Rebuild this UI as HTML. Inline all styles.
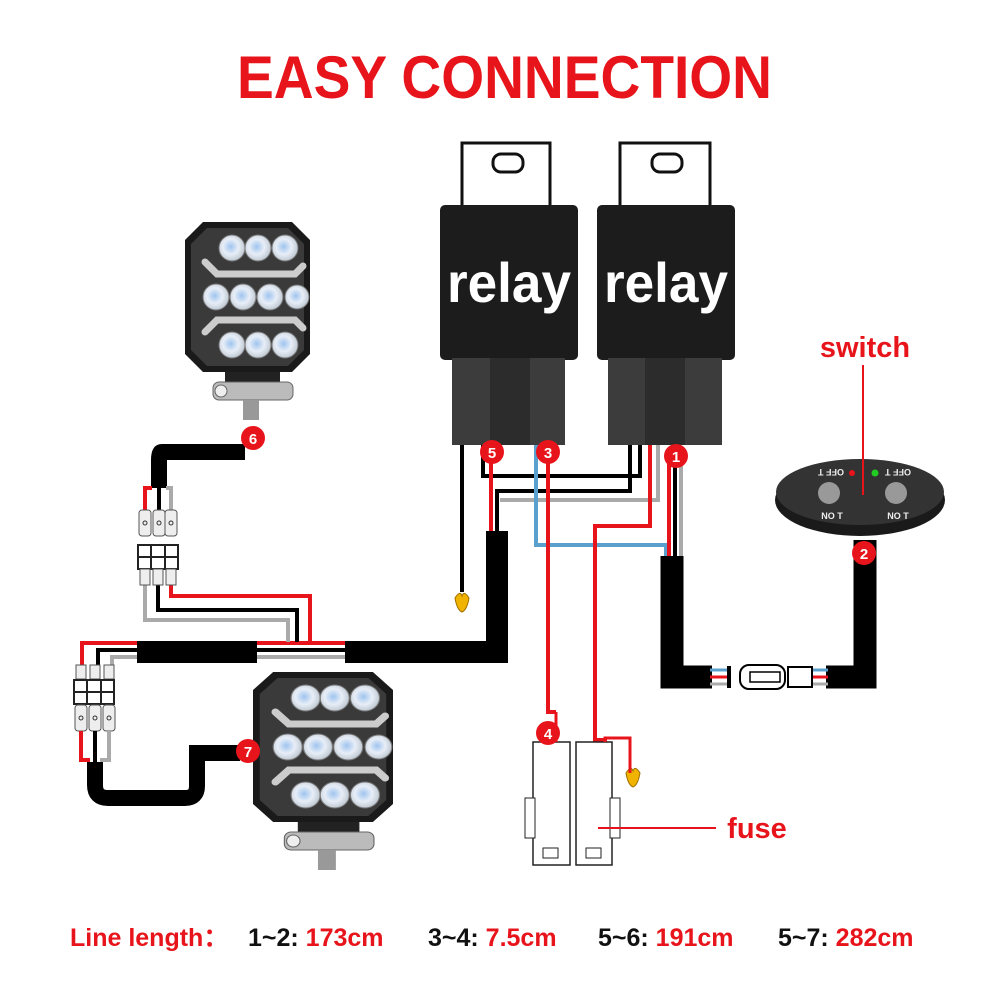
<!DOCTYPE html>
<html><head><meta charset="utf-8"><style>
body{margin:0;background:#fff;width:1000px;height:1000px;overflow:hidden}
svg{display:block}
text{font-family:"Liberation Sans",sans-serif;font-weight:bold}
</style></head><body>
<svg width="1000" height="1000" viewBox="0 0 1000 1000" xmlns="http://www.w3.org/2000/svg">
<defs>
<radialGradient id="led" cx="0.45" cy="0.45" r="0.6"><stop offset="0" stop-color="#9fc4ee"/><stop offset="0.5" stop-color="#e8eef7"/><stop offset="1" stop-color="#b8c2cc"/></radialGradient>
<g id="light">
<polygon points="18,0 107,0 125,18 125,132 107,150 18,150 0,132 0,18" fill="#1a1a1a"/>
<polygon points="22,6 103,6 119,22 119,128 103,144 22,144 6,128 6,22" fill="#3a3a3a"/>
<path d="M20,40 L32,52 L110,52 L118,44" stroke="#ccc" stroke-width="7" fill="none" stroke-linecap="round"/>
<path d="M20,110 L32,98 L110,98 L118,106" stroke="#ccc" stroke-width="7" fill="none" stroke-linecap="round"/>
<g fill="url(#led)" stroke="#777" stroke-width="1">
<circle cx="47" cy="26" r="13"/><circle cx="73" cy="26" r="13"/><circle cx="100" cy="26" r="13"/>
<circle cx="31" cy="75" r="13"/><circle cx="58" cy="75" r="13"/><circle cx="85" cy="75" r="13"/><circle cx="112" cy="75" r="12"/>
<circle cx="47" cy="123" r="13"/><circle cx="73" cy="123" r="13"/><circle cx="100" cy="123" r="13"/>
</g>
<rect x="40" y="150" width="55" height="20" fill="#222"/>
<rect x="28" y="160" width="80" height="18" rx="6" fill="#bbb" stroke="#666"/>
<circle cx="36" cy="169" r="6" fill="#eee" stroke="#666"/>
<rect x="58" y="178" width="16" height="20" fill="#999"/>
</g>
<g id="conn">
<rect x="0" y="0" width="12" height="26" rx="3" fill="#eee" stroke="#555"/>
<circle cx="6" cy="13" r="2" fill="none" stroke="#333"/>
</g>
</defs>

<text x="237" y="98" textLength="535" lengthAdjust="spacingAndGlyphs" font-size="60" fill="#e8141b">EASY CONNECTION</text>

<!-- relay 1 -->
<path d="M462,143 H550 V210 H462 Z" fill="#fff" stroke="#111" stroke-width="3"/>
<rect x="493" y="154" width="30" height="18" rx="8" fill="#fff" stroke="#111" stroke-width="3"/>
<rect x="440" y="205" width="138" height="155" rx="5" fill="#1c1c1c"/>
<text x="447" y="302" textLength="124" lengthAdjust="spacingAndGlyphs" font-size="56" fill="#fff">relay</text>
<rect x="452" y="358" width="113" height="87" fill="#3c3c3c"/>
<rect x="490" y="358" width="40" height="87" fill="#2c2c2c"/>
<!-- relay 2 -->
<path d="M620,143 H710 V210 H620 Z" fill="#fff" stroke="#111" stroke-width="3"/>
<rect x="652" y="154" width="30" height="18" rx="8" fill="#fff" stroke="#111" stroke-width="3"/>
<rect x="597" y="205" width="138" height="155" rx="5" fill="#1c1c1c"/>
<text x="604" y="302" textLength="124" lengthAdjust="spacingAndGlyphs" font-size="56" fill="#fff">relay</text>
<rect x="608" y="358" width="114" height="87" fill="#3c3c3c"/>
<rect x="645" y="358" width="40" height="87" fill="#2c2c2c"/>

<!-- thin relay wires -->
<g fill="none" stroke-width="4">
<path d="M462,445 V592" stroke="#000"/>
<path d="M483,445 V476 H640 V445" stroke="#000"/>
<path d="M497,531 V491 H630 V445" stroke="#000"/>
<path d="M500,500 H658 V445" stroke="#aaa"/>
<path d="M536,445 V545 H666 V556" stroke="#5aa0cc"/>
<path d="M491,452 V531" stroke="#e8141b"/>
<path d="M548,452 V712 L556,712" stroke="#e8141b"/>
<path d="M650,445 V526 H595 V740 H605 V780" stroke="#e8141b"/>
<path d="M669,452 V556" stroke="#e8141b"/>
<path d="M675,452 V556" stroke="#000"/>
<path d="M681,452 V556" stroke="#aaa"/>
</g>
<path d="M455,598 q5,-8 7,-2 q2,-6 7,2 q-2,12 -7,14 q-5,-2 -7,-14z" fill="#f0b400" stroke="#a07000"/>
<path d="M626,773 q5,-8 7,-2 q2,-6 7,2 q-2,12 -7,14 q-5,-2 -7,-14z" fill="#f0b400" stroke="#a07000"/>

<!-- main cable from relay 5 -->
<path d="M497,531 V652 H345" stroke="#000" stroke-width="22" fill="none"/>
<g stroke-width="4" fill="none">
<path d="M345,643 H82 V665" stroke="#e8141b"/>
<path d="M345,650 H98 V665" stroke="#000"/>
<path d="M345,657 H112 V665" stroke="#aaa"/>
</g>
<rect x="137" y="641" width="120" height="22" fill="#000"/>

<!-- light1 cable -->
<path d="M245,452 H162 Q159,452 159,460 V488" stroke="#000" stroke-width="16" fill="none"/>
<g stroke-width="4" fill="none">
<path d="M152,488 H145 V510" stroke="#e8141b"/>
<path d="M159,488 V510" stroke="#000"/>
<path d="M166,488 H171 V510" stroke="#aaa"/>
<path d="M145,585 V620 H288 V642" stroke="#aaa"/>
<path d="M158,585 V610 H297 V642" stroke="#000"/>
<path d="M171,585 V596 H310 V642" stroke="#e8141b"/>
</g>
<g>
<use href="#conn" x="139" y="510"/><use href="#conn" x="153" y="510"/><use href="#conn" x="165" y="510"/>
<rect x="138" y="545" width="40" height="24" fill="#fff" stroke="#222" stroke-width="2"/>
<path d="M138,557 H178 M151,545 V569 M165,545 V569" stroke="#222" stroke-width="2"/>
<rect x="140" y="569" width="10" height="16" fill="#eee" stroke="#555"/><rect x="153" y="569" width="10" height="16" fill="#eee" stroke="#555"/><rect x="166" y="569" width="10" height="16" fill="#eee" stroke="#555"/>
</g>
<!-- left connectors -->
<g>
<rect x="76" y="665" width="10" height="14" fill="#eee" stroke="#555"/><rect x="90" y="665" width="10" height="14" fill="#eee" stroke="#555"/><rect x="104" y="665" width="10" height="14" fill="#eee" stroke="#555"/>
<rect x="74" y="680" width="40" height="24" fill="#fff" stroke="#222" stroke-width="2"/>
<path d="M74,692 H114 M87,680 V704 M101,680 V704" stroke="#222" stroke-width="2"/>
<use href="#conn" x="75" y="705"/><use href="#conn" x="89" y="705"/><use href="#conn" x="103" y="705"/>
</g>
<g stroke-width="4" fill="none">
<path d="M81,731 V760 H90" stroke="#e8141b"/>
<path d="M95,731 V762" stroke="#000"/>
<path d="M109,731 V760 H100" stroke="#aaa"/>
</g>
<path d="M95,762 V785 Q95,798 108,798 H185 Q197,798 197,786 V753 H240" stroke="#000" stroke-width="16" fill="none"/>

<!-- lights -->
<use href="#light" transform="translate(185,222)"/>
<use href="#light" transform="translate(253,672) scale(1.12,1)"/>

<!-- switch side cable -->
<path d="M672,556 V677 H712" stroke="#000" stroke-width="23" fill="none"/>
<path d="M826,677 H865 V540" stroke="#000" stroke-width="23" fill="none"/>
<g stroke-width="3"><path d="M710,670 H728 M812,670 H828" stroke="#5aa0cc"/><path d="M710,677 H728 M812,677 H828" stroke="#e8141b"/><path d="M710,684 H728 M812,684 H828" stroke="#aaa"/></g>
<rect x="727" y="666" width="4" height="22" fill="#000"/>
<rect x="740" y="665" width="45" height="24" rx="9" fill="#fff" stroke="#000" stroke-width="2"/>
<rect x="750" y="672" width="30" height="10" fill="#fff" stroke="#000" stroke-width="1.5"/>
<rect x="788" y="667" width="24" height="20" fill="#fff" stroke="#000" stroke-width="2"/>

<!-- switch -->
<ellipse cx="860" cy="500" rx="85" ry="36" fill="#1a1a1a"/>
<ellipse cx="860" cy="492" rx="84" ry="33" fill="#333"/>
<circle cx="829" cy="493" r="11" fill="#999"/><circle cx="896" cy="493" r="11" fill="#999"/>
<text x="831" y="475" font-size="9" fill="#eee" text-anchor="middle" transform="rotate(180 831 472)">OFF T</text>
<text x="898" y="475" font-size="9" fill="#eee" text-anchor="middle" transform="rotate(180 898 472)">OFF T</text>
<text x="832" y="519" font-size="9" fill="#eee" text-anchor="middle">NO T</text>
<text x="898" y="519" font-size="9" fill="#eee" text-anchor="middle">NO T</text>
<circle cx="852" cy="473" r="3" fill="#e8141b"/><circle cx="875" cy="473" r="3.5" fill="#2c2"/>
<line x1="863" y1="365" x2="863" y2="495" stroke="#e8141b" stroke-width="2"/>
<text x="865" y="357" text-anchor="middle" font-size="29" fill="#e8141b">switch</text>

<!-- fuse -->
<rect x="533" y="742" width="37" height="123" fill="#fff" stroke="#222" stroke-width="1.5"/>
<rect x="576" y="742" width="36" height="123" fill="#fff" stroke="#222" stroke-width="1.5"/>
<rect x="525" y="798" width="10" height="40" fill="#fff" stroke="#222"/>
<rect x="610" y="798" width="10" height="40" fill="#fff" stroke="#222"/>
<rect x="543" y="848" width="15" height="10" fill="#fff" stroke="#222"/>
<rect x="586" y="848" width="15" height="10" fill="#fff" stroke="#222"/>
<path d="M605,742 V738 H630 V773" stroke="#e8141b" stroke-width="3" fill="none"/>
<path d="M556,712 V742" stroke="#e8141b" stroke-width="3"/>
<line x1="598" y1="828" x2="716" y2="828" stroke="#e8141b" stroke-width="2"/>
<text x="757" y="838" text-anchor="middle" font-size="29" fill="#e8141b">fuse</text>

<!-- number badges -->
<g font-size="15" text-anchor="middle" fill="#fff">
<circle cx="253" cy="438" r="12" fill="#e8141b"/><text x="253" y="444">6</text>
<circle cx="492" cy="452" r="12" fill="#e8141b"/><text x="492" y="458">5</text>
<circle cx="548" cy="452" r="12" fill="#e8141b"/><text x="548" y="458">3</text>
<circle cx="676" cy="456" r="12" fill="#e8141b"/><text x="676" y="462">1</text>
<circle cx="864" cy="553" r="12" fill="#e8141b"/><text x="864" y="559">2</text>
<circle cx="548" cy="733" r="12" fill="#e8141b"/><text x="548" y="739">4</text>
<circle cx="248" cy="751" r="12" fill="#e8141b"/><text x="248" y="757">7</text>
</g>

<text y="946" font-size="25"><tspan x="70" fill="#e8141b">Line length：</tspan><tspan x="248" fill="#111">1~2:</tspan><tspan fill="#e8141b"> 173cm</tspan><tspan x="428" fill="#111">3~4:</tspan><tspan fill="#e8141b"> 7.5cm</tspan><tspan x="598" fill="#111">5~6:</tspan><tspan fill="#e8141b"> 191cm</tspan><tspan x="778" fill="#111">5~7:</tspan><tspan fill="#e8141b"> 282cm</tspan></text>
</svg>
</body></html>
